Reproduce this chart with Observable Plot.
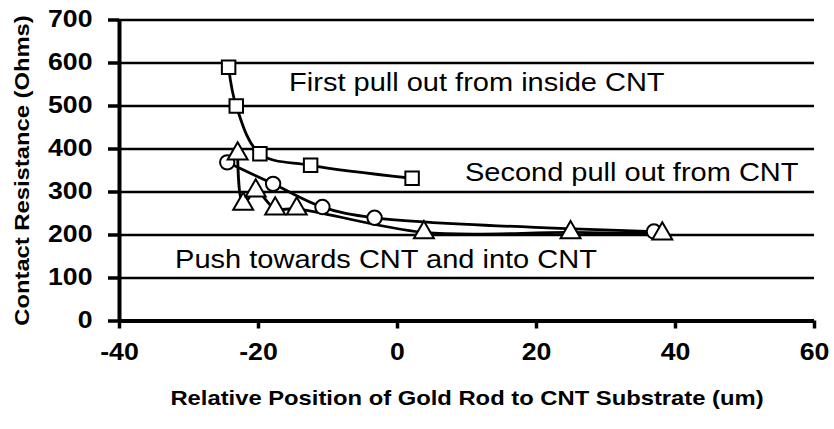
<!DOCTYPE html>
<html>
<head>
<meta charset="utf-8">
<script src="https://cdn.jsdelivr.net/npm/d3@7"></script>
<script src="https://cdn.jsdelivr.net/npm/@observablehq/plot@0.6"></script>
<style>
  html, body { margin: 0; padding: 0; background: #fff; }
  #chart { width: 834px; height: 429px; }
</style>
</head>
<body>
<div id="chart"></div>
<script>
// ---- Data ----
const squareX   = [-24.3, -23.2, -19.8, -12.5, 2.1];
const squareY   = [590, 500, 389, 362, 332];
const circleX   = [-24.5, -17.9, -10.8, -3.3, 36.9];
const circleY   = [369, 319, 265, 240, 208];
const triangleX = [-23.0, -22.2, -20.4, -17.6, -14.5, 3.8, 24.9, 38.1];
const triangleY = [389, 272, 303, 261, 261, 206, 206, 203];

const noteText = ["First pull out from inside CNT", "Second pull out from CNT", "Push towards CNT and into CNT"];
const noteX    = [-15.6, 9.7, -32.0];
const noteY    = [553, 345, 142];

const xTicks = [-40, -20, 0, 20, 40, 60];
const yTicks = [0, 100, 200, 300, 400, 500, 600, 700];
const xTitle = "Relative Position of Gold Rod to CNT Substrate (um)";
const yTitle = "Contact Resistance (Ohms)";

// ---- Build tables ----
const squares   = squareX.map((x, i) => ({x, y: squareY[i]}));
const circles   = circleX.map((x, i) => ({x, y: circleY[i]}));
const triangles = triangleX.map((x, i) => ({x, y: triangleY[i]}));
const notes     = noteText.map((t, i) => ({t, x: noteX[i], y: noteY[i]}));

const font = "'Liberation Sans', Arial, sans-serif";
const lineOpts = {x: "x", y: "y", stroke: "black", strokeWidth: 2.8, curve: "catmull-rom"};

const chart = Plot.plot({
  width: 834,
  height: 429,
  marginLeft: 119,
  marginRight: 20,
  marginTop: 19.5,
  marginBottom: 108.5,
  style: {fontFamily: font, background: "white", color: "black", overflow: "visible"},
  x: {domain: [-40, 60]},
  y: {domain: [0, 700]},
  marks: [
    Plot.ruleY(yTicks, {stroke: "black", strokeWidth: 2.6}),
    Plot.ruleX([-40], {stroke: "black", strokeWidth: 4}),
    Plot.ruleY([0], {stroke: "black", strokeWidth: 4}),
    Plot.axisY({ticks: yTicks, tickFormat: d => String(d), tickSize: 11, tickPadding: 16, strokeWidth: 3.5, fontSize: 23, fontWeight: "bold", label: null}),
    Plot.axisX({ticks: xTicks, tickFormat: d => String(d), tickSize: 8, tickPadding: 15, strokeWidth: 3.5, fontSize: 23, fontWeight: "bold", label: null}),
    Plot.line(circles, lineOpts),
    Plot.line(triangles, lineOpts),
    Plot.line(squares, lineOpts),
    Plot.dot(squares, {x: "x", y: "y", symbol: "square", r: 7.6, fill: "white", stroke: "black", strokeWidth: 2}),
    Plot.dot(circles, {x: "x", y: "y", symbol: "circle", r: 7.2, fill: "white", stroke: "black", strokeWidth: 2}),
    Plot.dot(triangles, {x: "x", y: "y", symbol: "triangle", r: 7.4, fill: "white", stroke: "black", strokeWidth: 2}),
    Plot.text(notes, {x: "x", y: "y", text: "t", textAnchor: "start", fontSize: 25, fill: "black"}),
    Plot.text([xTitle], {frameAnchor: "bottom", dy: 84, fontSize: 20.5, fontWeight: "bold", fill: "black"}),
    Plot.text([yTitle], {frameAnchor: "left", textAnchor: "middle", dx: -97, rotate: -90, fontSize: 20.5, fontWeight: "bold", fill: "black"})
  ]
});
document.getElementById("chart").appendChild(chart);

// The reference's lettering is wider than Liberation Sans: widen each text a little.
const STRETCH = 1.16;
chart.querySelectorAll("text").forEach(el => {
  const len = el.getComputedTextLength();
  if (len > 0) {
    el.setAttribute("textLength", (len * STRETCH).toFixed(1));
    el.setAttribute("lengthAdjust", "spacingAndGlyphs");
  }
});
</script>
</body>
</html>
